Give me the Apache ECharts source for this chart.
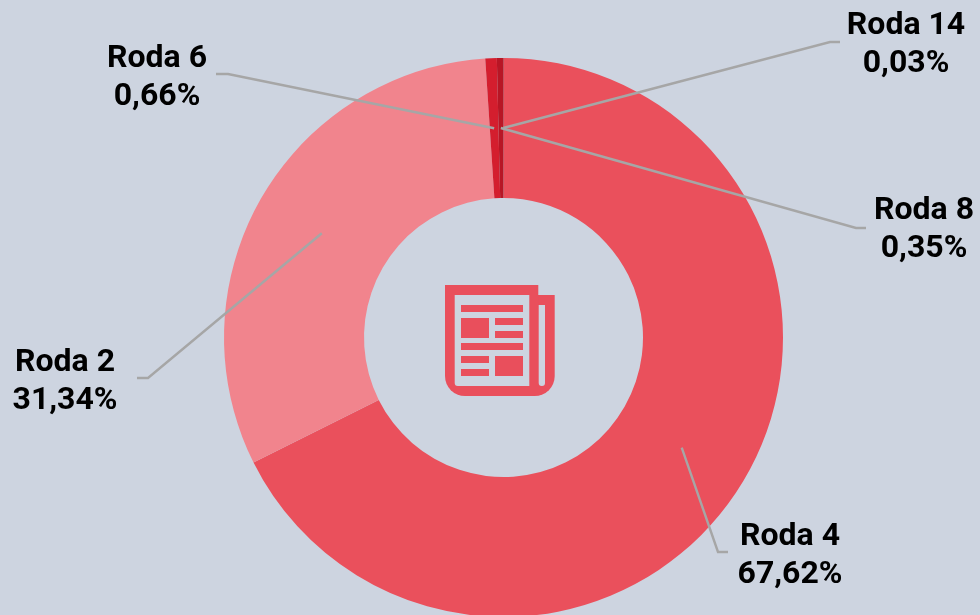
<!DOCTYPE html>
<html>
<head>
<meta charset="utf-8">
<style>html,body{margin:0;padding:0;background:#cdd4e0}#chart{width:980px;height:615px}</style>
<script src="https://cdn.jsdelivr.net/npm/echarts@6/dist/echarts.min.js"></script>
</head>
<body>
<div id="chart"></div>
<script>
// Share of each round, clockwise from twelve o'clock
const rounds = ['Roda 4', 'Roda 2', 'Roda 6', 'Roda 8', 'Roda 14'];
const shares = [67.62, 31.34, 0.66, 0.35, 0.03];
const colours = ['#ea505c', '#f1848d', '#d41e2e', '#b81625', '#a81220'];

// Label centre and the elbow of its leader line, per round
const labelAt = [[790, 556], [65, 382], [157, 78], [924, 230], [906, 45]];
const elbowAt = [[718, 552], [148, 378], [228, 74], [856, 228], [830, 42]];
const tailAt = [[728, 552], [137, 378], [216, 74], [866, 228], [840, 42]];

const centre = [503.5, 337.5];
const rows = rounds.map((name, i) => ({ name, value: shares[i] }));
const ink = '#e94f5c';

// Newspaper glyph in the hole of the ring
const sheet = [[445, 295, 109.7, 101, [0, 0, 20, 20]], [445, 285, 93.3, 30, 0]];
const cutouts = [[454.7, 295, 74.6, 91, [0, 0, 0, 3]], [538.7, 305, 6.3, 81, [0, 0, 3, 3]]];
const blocks = [
  [461, 305, 62, 7], [461, 318, 28, 20], [495, 318, 28, 7], [495, 331, 28, 7],
  [461, 343, 62, 7], [461, 356, 28, 7], [495, 356, 28, 20], [461, 369, 28, 7]
];
const rect = (r, fill) => ({
  type: 'rect', silent: true,
  shape: { x: r[0], y: r[1], width: r[2], height: r[3], r: r[4] || 0 },
  style: { fill }
});
const glyph = [
  ...sheet.map(r => rect(r, ink)),
  ...cutouts.map(r => rect(r, '#cdd4e0')),
  ...blocks.map(r => rect(r, ink))
];

const chart = echarts.init(document.getElementById('chart'), null, { renderer: 'canvas' });
chart.setOption({
  backgroundColor: '#cdd4e0',
  animation: false,
  color: colours,
  graphic: { elements: glyph },
  series: [
    {
      type: 'pie', silent: true, z: 1, center: centre, radius: [139.5, 279.5],
      startAngle: 90, clockwise: true, data: rows,
      label: { show: false }, labelLine: { show: false }
    },
    {
      // Transparent disc whose rim carries the leader lines from mid-ring
      type: 'pie', silent: true, z: 3, center: centre, radius: [0, 209.5],
      startAngle: 90, clockwise: true, data: rows,
      itemStyle: { color: 'transparent' },
      label: {
        show: true,
        formatter: p => p.name + '\n' + p.value.toFixed(2).replace('.', ',') + '%',
        fontFamily: 'Roboto', fontWeight: 'bold', fontSize: 32, lineHeight: 38,
        color: '#000000', align: 'center'
      },
      labelLine: { show: true, lineStyle: { color: '#a6a6a6', width: 2.4 } },
      labelLayout: p => ({
        x: labelAt[p.dataIndex][0],
        y: labelAt[p.dataIndex][1],
        align: 'center',
        verticalAlign: 'middle',
        labelLinePoints: [p.labelLinePoints[0], elbowAt[p.dataIndex], tailAt[p.dataIndex]]
      })
    }
  ]
});
</script>
</body>
</html>
